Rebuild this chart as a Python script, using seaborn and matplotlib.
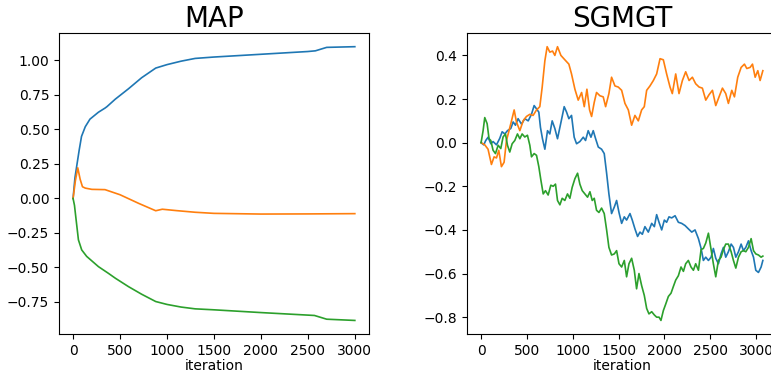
import numpy as np
import pandas as pd
import matplotlib
matplotlib.use("Agg")
import matplotlib.pyplot as plt
import seaborn as sns

# MAP panel (smooth trajectories)
map_blue_x = [0, 20, 40, 65, 90, 130, 180, 270, 340, 360, 450, 590, 730, 880,
              1000, 1150, 1300, 1500, 2000, 2500, 2580, 2700, 3000]
map_blue_y = [0, 0.15, 0.24, 0.35, 0.45, 0.52, 0.575, 0.625, 0.655, 0.665, 0.72,
              0.795, 0.875, 0.945, 0.97, 0.995, 1.015, 1.025, 1.045, 1.065, 1.07,
              1.095, 1.10]
map_orange_x = [0, 25, 50, 75, 100, 130, 200, 340, 500, 700, 880, 950, 1100,
                1300, 1500, 2000, 2500, 3000]
map_orange_y = [0, 0.13, 0.222, 0.14, 0.085, 0.075, 0.066, 0.064, 0.027, -0.036,
                -0.089, -0.078, -0.088, -0.1, -0.108, -0.113, -0.112, -0.11]
map_green_x = [0, 15, 30, 57, 92, 145, 270, 375, 450, 590, 730, 880, 1000, 1150,
               1300, 1500, 2000, 2570, 2700, 3000]
map_green_y = [0, -0.05, -0.14, -0.30, -0.373, -0.42, -0.494, -0.542, -0.578,
               -0.639, -0.694, -0.747, -0.768, -0.787, -0.80, -0.807, -0.827,
               -0.848, -0.875, -0.884]

# SGMGT panel (noisy trajectories)
sg_blue_x = [0, 29, 51, 77, 106, 131, 168, 204, 230, 259, 288, 324, 350, 375, 404,
             441, 477, 514, 550, 579, 605, 630, 648, 670, 696, 725, 750, 776, 805,
             834, 860, 885, 907, 933, 958, 987, 1016, 1042, 1078, 1115, 1140, 1169,
             1199, 1224, 1250, 1279, 1315, 1344, 1370, 1395, 1424, 1454, 1479, 1505,
             1534, 1563, 1588, 1625, 1650, 1679, 1708, 1734, 1760, 1788, 1825, 1862,
             1891, 1916, 1942, 1971, 2000, 2025, 2051, 2080, 2117, 2153, 2189, 2226,
             2262, 2299, 2335, 2372, 2401, 2426, 2452, 2481, 2510, 2535, 2561, 2590,
             2619, 2645, 2670, 2699, 2729, 2754, 2780, 2809, 2838, 2863, 2889, 2918,
             2947, 2973, 2998, 3027, 3056, 3075]
sg_blue_y = [0, -0.01, 0.01, 0.025, -0.005, 0.005, -0.01, 0.02, 0.05, 0.04,
             0.055, 0.065, 0.095, 0.08, 0.11, 0.085, 0.11, 0.10, 0.13, 0.17,
             0.155, 0.14, 0.07, 0.018, -0.03, 0.055, 0.04, 0.10, 0.065, 0.018,
             0.07, 0.12, 0.165, 0.14, 0.11, 0.125, 0.025, -0.005, 0.005, 0.025,
             0.01, 0.055, 0.025, 0.055, 0.018, -0.02, -0.03, -0.05, -0.14, -0.235,
             -0.325, -0.295, -0.265, -0.32, -0.37, -0.34, -0.355, -0.325, -0.355, -0.395,
             -0.43, -0.41, -0.42, -0.385, -0.41, -0.37, -0.385, -0.33, -0.365, -0.40,
             -0.355, -0.365, -0.34, -0.345, -0.335, -0.365, -0.37, -0.38, -0.395, -0.41,
             -0.40, -0.44, -0.485, -0.54, -0.525, -0.54, -0.525, -0.485, -0.53, -0.555,
             -0.51, -0.48, -0.525, -0.50, -0.465, -0.48, -0.525, -0.50, -0.465, -0.495,
             -0.48, -0.45, -0.495, -0.525, -0.585, -0.595, -0.57, -0.54]
sg_orange_x = [0, 40, 76, 113, 142, 168, 193, 222, 251, 277, 302, 332, 361, 386,
               423, 459, 495, 532, 568, 605, 641, 667, 696, 721, 750, 780, 805, 834,
               871, 914, 958, 987, 1024, 1060, 1097, 1126, 1155, 1184, 1206, 1235,
               1260, 1297, 1333, 1359, 1395, 1424, 1461, 1497, 1534, 1570, 1607, 1643,
               1679, 1716, 1752, 1781, 1807, 1843, 1880, 1916, 1953, 1989, 2025, 2062,
               2087, 2124, 2160, 2197, 2233, 2270, 2306, 2342, 2379, 2415, 2452, 2488,
               2525, 2561, 2597, 2634, 2670, 2699, 2736, 2765, 2801, 2838, 2874, 2900,
               2936, 2962, 2991, 3020, 3045, 3075]
sg_orange_y = [0, -0.01, -0.03, -0.10, -0.065, -0.07, -0.035, -0.11, -0.09, 0.01,
               0.05, 0.10, 0.15, 0.095, 0.055, 0.10, 0.12, 0.13, 0.125, 0.15,
               0.165, 0.255, 0.375, 0.44, 0.415, 0.42, 0.40, 0.44, 0.40, 0.38,
               0.36, 0.315, 0.245, 0.195, 0.23, 0.165, 0.245, 0.15, 0.12, 0.185,
               0.23, 0.215, 0.21, 0.165, 0.225, 0.30, 0.26, 0.255, 0.24, 0.18,
               0.15, 0.08, 0.125, 0.10, 0.15, 0.165, 0.24, 0.26, 0.285, 0.315,
               0.385, 0.38, 0.315, 0.255, 0.225, 0.315, 0.225, 0.285, 0.325, 0.285,
               0.30, 0.27, 0.255, 0.25, 0.195, 0.22, 0.24, 0.17, 0.21, 0.25,
               0.225, 0.18, 0.24, 0.21, 0.30, 0.345, 0.36, 0.34, 0.345, 0.36,
               0.30, 0.33, 0.285, 0.33]
sg_green_x = [0, 22, 40, 66, 87, 106, 131, 157, 186, 215, 240, 266, 288, 313, 339,
              368, 397, 423, 448, 477, 506, 532, 550, 579, 605, 630, 652, 678, 703,
              732, 761, 787, 812, 834, 860, 885, 914, 943, 969, 994, 1024, 1053, 1078,
              1104, 1133, 1162, 1188, 1213, 1235, 1260, 1286, 1315, 1344, 1370, 1395,
              1424, 1454, 1479, 1505, 1534, 1563, 1588, 1614, 1643, 1672, 1697, 1723,
              1752, 1781, 1807, 1832, 1862, 1891, 1916, 1942, 1963, 1989, 2015, 2044,
              2073, 2098, 2124, 2153, 2182, 2208, 2233, 2262, 2291, 2317, 2342, 2372,
              2401, 2426, 2452, 2481, 2510, 2535, 2561, 2590, 2619, 2645, 2670, 2699,
              2729, 2754, 2780, 2809, 2838, 2863, 2889, 2918, 2947, 2973, 2998, 3027,
              3056, 3075]
sg_green_y = [0, 0.055, 0.115, 0.087, 0.018, 0.01, -0.035, -0.05, -0.012, -0.027,
              0.026, 0.04, -0.012, -0.043, -0.005, 0.01, 0.04, 0.018, 0.04, 0.026,
              0.034, -0.012, -0.065, -0.05, -0.058, -0.11, -0.17, -0.235, -0.22, -0.24,
              -0.195, -0.20, -0.19, -0.265, -0.285, -0.255, -0.265, -0.235, -0.255, -0.205,
              -0.165, -0.14, -0.19, -0.22, -0.235, -0.25, -0.225, -0.265, -0.255, -0.31,
              -0.32, -0.30, -0.325, -0.40, -0.48, -0.515, -0.51, -0.495, -0.555, -0.57,
              -0.54, -0.615, -0.555, -0.53, -0.585, -0.67, -0.60, -0.655, -0.70, -0.76,
              -0.785, -0.775, -0.79, -0.80, -0.80, -0.815, -0.77, -0.74, -0.705, -0.69,
              -0.66, -0.63, -0.61, -0.57, -0.59, -0.555, -0.54, -0.57, -0.585, -0.555,
              -0.585, -0.49, -0.485, -0.46, -0.415, -0.49, -0.555, -0.615, -0.54, -0.525,
              -0.49, -0.465, -0.465, -0.50, -0.54, -0.575, -0.525, -0.50, -0.495, -0.50,
              -0.48, -0.44, -0.495, -0.51, -0.515, -0.525, -0.52]

colors = ["#1f77b4", "#ff7f0e", "#2ca02c"]


def long_frame(series):
    parts = []
    for k, (xs, ys) in enumerate(series):
        parts.append(pd.DataFrame({"iteration": xs, "value": ys, "dim": k}))
    return pd.concat(parts, ignore_index=True)


map_df = long_frame([(map_blue_x, map_blue_y), (map_orange_x, map_orange_y),
                     (map_green_x, map_green_y)])
sg_df = long_frame([(sg_blue_x, sg_blue_y), (sg_orange_x, sg_orange_y),
                    (sg_green_x, sg_green_y)])

plt.rcParams["font.size"] = 10

fig = plt.figure(figsize=(7.71, 3.75), dpi=100)
ax1 = fig.add_axes([0.0765, 0.109, 0.402, 0.803])
ax2 = fig.add_axes([0.6057, 0.109, 0.402, 0.803])

for ax, df, title in [(ax1, map_df, "MAP"), (ax2, sg_df, "SGMGT")]:
    sns.lineplot(data=df, x="iteration", y="value", hue="dim", palette=colors,
                 legend=False, ax=ax, linewidth=1.2, estimator=None, sort=False)
    ax.set_title(title, fontsize=20, pad=4)
    ax.set_xlabel("iteration", labelpad=1)
    ax.set_ylabel("")
    ax.set_xticks([0, 500, 1000, 1500, 2000, 2500, 3000])

ax1.set_yticks([-0.75, -0.5, -0.25, 0.0, 0.25, 0.5, 0.75, 1.0])
ax2.set_yticks([-0.8, -0.6, -0.4, -0.2, 0.0, 0.2, 0.4])

fig.savefig("out.png", dpi=100)
